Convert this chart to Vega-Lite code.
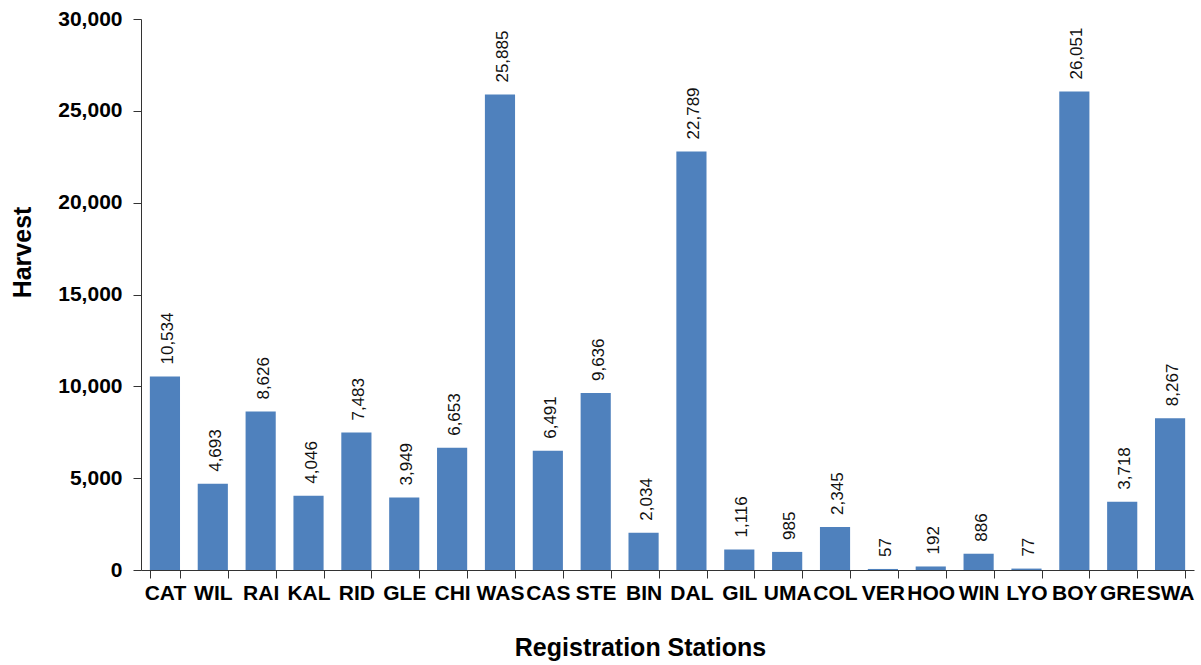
{
  "$schema": "https://vega.github.io/schema/vega-lite/v6.json",
  "width": 1053,
  "height": 551,
  "autosize": {"type": "none"},
  "padding": {"left": 141, "top": 19, "right": 7, "bottom": 95},
  "background": "white",
  "config": {
    "view": {"stroke": null},
    "font": "Liberation Sans"
  },
  "data": {
    "values": [
      {"station": "CAT", "harvest": 10534},
      {"station": "WIL", "harvest": 4693},
      {"station": "RAI", "harvest": 8626},
      {"station": "KAL", "harvest": 4046},
      {"station": "RID", "harvest": 7483},
      {"station": "GLE", "harvest": 3949},
      {"station": "CHI", "harvest": 6653},
      {"station": "WAS", "harvest": 25885},
      {"station": "CAS", "harvest": 6491},
      {"station": "STE", "harvest": 9636},
      {"station": "BIN", "harvest": 2034},
      {"station": "DAL", "harvest": 22789},
      {"station": "GIL", "harvest": 1116},
      {"station": "UMA", "harvest": 985},
      {"station": "COL", "harvest": 2345},
      {"station": "VER", "harvest": 57},
      {"station": "HOO", "harvest": 192},
      {"station": "WIN", "harvest": 886},
      {"station": "LYO", "harvest": 77},
      {"station": "BOY", "harvest": 26051},
      {"station": "GRE", "harvest": 3718},
      {"station": "SWA", "harvest": 8267}
    ]
  },
  "encoding": {
    "x": {
      "field": "station",
      "type": "nominal",
      "sort": null,
      "scale": {"paddingInner": 0.37, "paddingOuter": 0.185},
      "axis": {
        "title": "Registration Stations",
        "titleFont": "Liberation Sans",
        "titleFontSize": 25,
        "titleFontWeight": "bold",
        "titleColor": "#000",
        "titlePadding": 32,
        "titleX": 499,
        "labelAngle": 0,
        "labelFont": "Liberation Sans",
        "labelFontSize": 21,
        "labelFontWeight": "bold",
        "labelColor": "#000",
        "labelPadding": 4,
        "labelOverlap": false,
        "labelLimit": 0,
        "tickBand": "extent",
        "tickSize": 8,
        "tickColor": "#333",
        "domainColor": "#333",
        "grid": false
      }
    },
    "y": {
      "field": "harvest",
      "type": "quantitative",
      "scale": {"domain": [0, 30000], "nice": false},
      "axis": {
        "title": "Harvest",
        "titleFont": "Liberation Sans",
        "titleFontSize": 25,
        "titleFontWeight": "bold",
        "titleColor": "#000",
        "titlePadding": 22,
        "titleY": 233,
        "values": [0, 5000, 10000, 15000, 20000, 25000, 30000],
        "format": ",d",
        "labelFont": "Liberation Sans",
        "labelFontSize": 21,
        "labelFontWeight": "bold",
        "labelColor": "#000",
        "labelPadding": 11,
        "tickSize": 8,
        "tickColor": "#333",
        "domainColor": "#333",
        "grid": false
      }
    }
  },
  "layer": [
    {"mark": {"type": "bar", "color": "#4F81BD"}},
    {
      "mark": {
        "type": "text",
        "angle": 270,
        "align": "left",
        "baseline": "middle",
        "dx": 12,
        "dy": 3,
        "font": "Liberation Sans",
        "fontSize": 17,
        "color": "#111"
      },
      "encoding": {
        "text": {"field": "harvest", "type": "quantitative", "format": ",d"}
      }
    }
  ]
}
